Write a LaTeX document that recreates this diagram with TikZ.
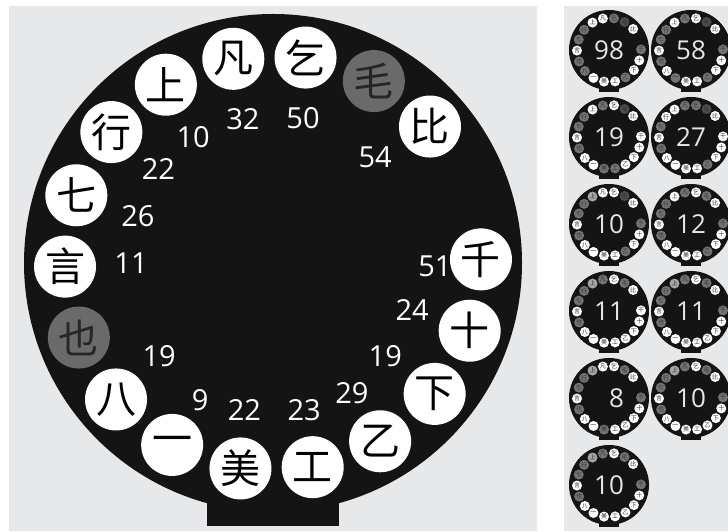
\documentclass[tikz,border=0pt]{standalone}
\usepackage{fontspec}
\newfontfamily\cjk{Noto Sans CJK SC}
\newfontfamily\numfont{Open Sans}
\usetikzlibrary{calc}
\definecolor{panelgray}{HTML}{E7E8EA}
\definecolor{dialblack}{HTML}{141414}
\definecolor{keygray}{HTML}{6A6A6A}
\tikzset{
  key/.style={circle,fill=white,minimum size=62pt,inner sep=0pt,font=\cjk\fontsize{40}{40}\selectfont},
  keyoff/.style={key,fill=keygray,text=black!85},
  num/.style={inner sep=0pt,text=white,font=\numfont\fontsize{29}{29}\selectfont},
  mini/.style={circle,minimum size=10pt,inner sep=0pt},
  kw/.style={mini,fill=white},
  kl/.style={mini,fill=black!35},
  kg/.style={mini,fill=black!55},
  kd/.style={mini,fill=black!70},
  kn/.style={mini},
  minich/.style={inner sep=0pt,text=black!80,font=\cjk\fontsize{6}{6}\selectfont},
  total/.style={inner sep=0pt,text=black!10,font=\numfont\fontsize{26}{26}\selectfont},
}
\begin{document}
\begin{tikzpicture}[x=1pt,y=1pt]
\useasboundingbox (0,0) rectangle (728,532);
\fill[white] (0,0) rectangle (728,532);
\fill[panelgray] (9,1) rectangle (537,526);
\fill[panelgray] (564,1) rectangle (728,526);
% big dial
\coordinate (big) at (273,269);
\fill[dialblack] (big) circle (249);
\fill[dialblack] ($(big)+(-66,-200)$) rectangle ($(big)+(66,-263)$);
\foreach \a/\ch/\st [count=\i] in {81/乞/key,61/毛/keyoff,41/比/key,1/千/key,-19/十/key,-39/下/key,
  -59/乙/key,-79/工/key,-99/美/key,-119/一/key,-139/八/key,-159/也/keyoff,-179/言/key,161/七/key,
  141/行/key,121/上/key,101/凡/key}
  \node[\st] (key\i) at ($(big)+(\a:208)$) {\ch};
\foreach \a/\r/\v [count=\i] in {78.3/148/50,46/147/54,-1/162/51,-18.7/147/24,-39.7/146/19,-58.7/152/29,
  -78/150/23,-101/150/22,-118/155/9,-140.8/147/19,180/142/11,160.8/143/26,140.7/148/22,122.4/149/10,101.8/147/32}
  \node[num] (num\i) at ($(big)+(\a:\r)$) {\v};
% small dials
\foreach \cx/\cy/\v/\sh [count=\j] in {
  609/482/98/{kg,kd,kw,kn,kg,kw,kw,kg,kw,kw,kw,kg,kg,kw,kg,kg,kw,kw},
  691/482/58/{kw,kd,kw,kn,kg,kw,kw,kg,kw,kw,kg,kw,kg,kw,kg,kg,kw,kg},
  609/395/19/{kw,kd,kw,kn,kw,kw,kw,kw,kg,kg,kw,kw,kg,kw,kg,kg,kw,kg},
  691/395/27/{kg,kd,kw,kn,kw,kw,kw,kg,kw,kw,kw,kw,kg,kw,kg,kw,kw,kg},
  609/308/10/{kw,kd,kw,kn,kg,kw,kw,kg,kw,kw,kw,kw,kg,kw,kg,kg,kl,kw},
  691/308/12/{kw,kg,kw,kn,kg,kw,kw,kg,kw,kw,kw,kw,kg,kw,kg,kg,kw,kg},
  609/221/11/{kw,kg,kw,kn,kw,kw,kw,kw,kw,kw,kw,kw,kg,kw,kg,kg,kl,kg},
  691/221/11/{kw,kg,kw,kn,kg,kw,kw,kw,kw,kw,kw,kw,kg,kw,kg,kg,kl,kg},
  609/134/{\phantom{0}8}/{kw,kg,kw,kn,kg,kw,kw,kw,kw,kg,kw,kw,kg,kw,kg,kg,kl,kw},
  691/134/10/{kw,kg,kw,kn,kg,kw,kw,kw,kw,kw,kw,kw,kg,kw,kg,kg,kl,kg},
  609/47/10/{kw,kg,kw,kn,kg,kw,kw,kw,kw,kw,kw,kw,kg,kw,kg,kg,kl,kg}}{
  \coordinate (dial\j) at (\cx,\cy);
  \fill[dialblack] (dial\j) circle (40);
  \fill[dialblack] ($(dial\j)+(-10,-30)$) rectangle ($(dial\j)+(10,-42)$);
  \foreach \s [count=\i from 0] in \sh
    \node[\s] (dial\j k\i) at ($(dial\j)+(81-20*\i:32)$) {};
  \foreach \a/\ch [count=\i] in {81/乞,61/毛,41/比,1/千,-19/十,-39/下,-59/乙,-79/工,-99/美,
    -119/一,-139/八,-159/也,-179/言,161/七,141/行,121/上,101/凡}
    \node[minich] (dial\j c\i) at ($(dial\j)+(\a:32)$) {\ch};
  \node[total] (val\j) at (dial\j) {\v};
}
\end{tikzpicture}
\end{document}
